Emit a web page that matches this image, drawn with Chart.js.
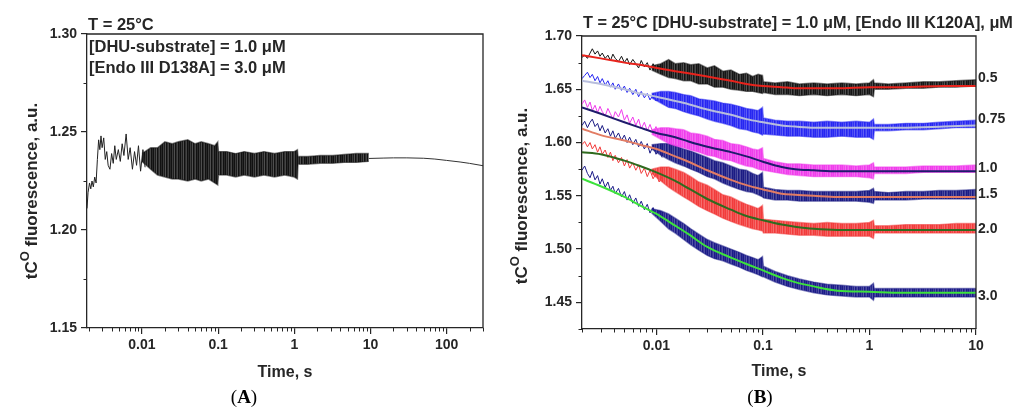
<!DOCTYPE html>
<html>
<head>
<meta charset="utf-8">
<script src="https://cdn.jsdelivr.net/npm/chart.js@4.4.1/dist/chart.umd.min.js"></script>
<style>
  html, body { margin: 0; padding: 0; background: #fff; }
  #wrap { position: relative; width: 1017px; height: 410px; }
  #chartA { position: absolute; left: 0; top: 0; }
  #chartB { position: absolute; left: 500px; top: 0; }
</style>
</head>
<body>
<div id="wrap">
  <canvas id="chartA" width="500" height="410"></canvas>
  <canvas id="chartB" width="517" height="410"></canvas>
</div>
<script>
const FONT = "'Liberation Sans', Arial, sans-serif";
const SERIF = "'Liberation Serif', 'Times New Roman', serif";
const INK = '#262626';

// ---------- panel A : D138A, 3.0 uM ----------
const tA_early = [0.0019, 0.00196, 0.00205, 0.00213, 0.00221, 0.0023, 0.0024, 0.0025, 0.0026, 0.0027,
  0.0028, 0.0029, 0.003, 0.00315, 0.0033, 0.00345, 0.0036, 0.0038, 0.004, 0.0042,
  0.0044, 0.0046, 0.0049, 0.0052, 0.0055, 0.0058, 0.0062, 0.0066, 0.007, 0.0075,
  0.008, 0.0085, 0.009, 0.0096, 0.0103, 0.011];
const fluoA_early = [1.211, 1.219, 1.224, 1.221, 1.225, 1.222, 1.227, 1.224, 1.236, 1.246,
  1.241, 1.248, 1.242, 1.247, 1.236, 1.240, 1.233, 1.231, 1.239, 1.234,
  1.243, 1.236, 1.241, 1.235, 1.244, 1.238, 1.249, 1.236, 1.242, 1.231,
  1.240, 1.233, 1.243, 1.230, 1.241, 1.232];
const tA_band = [0.01, 0.013, 0.016, 0.02, 0.025, 0.03, 0.04, 0.05, 0.06, 0.075,
  0.09, 0.099, 0.101, 0.13, 0.17, 0.22, 0.3, 0.4, 0.55, 0.75,
  1.0, 1.1, 1.12, 1.5, 2.2, 3.2, 4.5, 6.5, 9.5];
const fluoA_hi = [1.239, 1.242, 1.242, 1.245, 1.244, 1.245, 1.246, 1.244, 1.245, 1.244,
  1.243, 1.245, 1.240, 1.240, 1.239, 1.240, 1.239, 1.240, 1.239, 1.240,
  1.240, 1.241, 1.2375, 1.2375, 1.238, 1.238, 1.2385, 1.239, 1.239];
const fluoA_lo = [1.235, 1.231, 1.228, 1.227, 1.226, 1.226, 1.225, 1.226, 1.225, 1.226,
  1.224, 1.223, 1.228, 1.228, 1.227, 1.228, 1.227, 1.228, 1.227, 1.228,
  1.227, 1.226, 1.2335, 1.2335, 1.234, 1.234, 1.2345, 1.2345, 1.235];
const tA_tail = [9.5, 15, 20, 30, 50, 70, 100, 150, 200, 300];
const fluoA_tail = [1.2365, 1.2367, 1.2368, 1.2368, 1.2366, 1.2362, 1.2355, 1.2347, 1.234, 1.2328];
const xTicksA = [0.01, 0.1, 1, 10, 100];
const yTicksA = [1.15, 1.20, 1.25, 1.30];
const yMinorA = [1.175, 1.225, 1.275];

// ---------- panel B : K120A titration ----------
const tB_early = [0.002, 0.00212, 0.00225, 0.00238, 0.0025, 0.00265, 0.0028, 0.00295, 0.0031, 0.0033,
  0.0035, 0.0037, 0.0039, 0.0041, 0.0044, 0.0047, 0.005, 0.0053, 0.0056, 0.006,
  0.0064, 0.0068, 0.0072, 0.0077, 0.0082, 0.0087, 0.0093, 0.0099, 0.0106, 0.0113];
const tB_band = [0.009, 0.011, 0.013, 0.015, 0.018, 0.021, 0.025, 0.03, 0.035, 0.042,
  0.05, 0.06, 0.07, 0.08, 0.09, 0.099, 0.101, 0.13, 0.17, 0.22,
  0.3, 0.4, 0.55, 0.75, 1.0, 1.09, 1.11, 1.5, 2.2, 3.2,
  4.5, 6.5, 10];
const tB_fit = [0.002, 0.003, 0.005, 0.007, 0.01, 0.015, 0.02, 0.03, 0.05, 0.07,
  0.1, 0.15, 0.2, 0.3, 0.5, 1, 2, 5, 10];

const concLabels = ['0.5', '0.75', '1.0', '1.5', '2.0', '3.0'];

const raw05 = [1.680, 1.682, 1.679, 1.684, 1.688, 1.683, 1.686, 1.681, 1.684, 1.679,
  1.682, 1.677, 1.683, 1.679, 1.676, 1.681, 1.675, 1.679, 1.673, 1.678,
  1.674, 1.670, 1.677, 1.671, 1.675, 1.668, 1.674, 1.669, 1.672, 1.667];
const hi05 = [1.672, 1.674, 1.678, 1.674, 1.675, 1.673, 1.674, 1.670, 1.672, 1.667,
  1.668, 1.664, 1.665, 1.662, 1.664, 1.663, 1.657, 1.656, 1.657, 1.655,
  1.656, 1.655, 1.656, 1.655, 1.656, 1.659, 1.656, 1.655, 1.656, 1.657,
  1.657, 1.658, 1.659];
const lo05 = [1.668, 1.664, 1.661, 1.660, 1.658, 1.658, 1.655, 1.655, 1.652, 1.652,
  1.650, 1.649, 1.648, 1.648, 1.647, 1.646, 1.647, 1.645, 1.645, 1.644,
  1.645, 1.644, 1.645, 1.644, 1.645, 1.643, 1.650, 1.650, 1.651, 1.651,
  1.652, 1.652, 1.653];
const fit05 = [1.682, 1.679, 1.675, 1.673, 1.670, 1.667, 1.665, 1.662, 1.658, 1.655,
  1.653, 1.652, 1.651, 1.651, 1.651, 1.652, 1.652, 1.653, 1.653];

const raw075 = [1.660, 1.663, 1.666, 1.661, 1.664, 1.658, 1.662, 1.656, 1.660, 1.654,
  1.658, 1.652, 1.656, 1.650, 1.655, 1.649, 1.653, 1.647, 1.651, 1.645,
  1.650, 1.643, 1.648, 1.642, 1.646, 1.640, 1.645, 1.639, 1.643, 1.637];
const hi075 = [1.646, 1.648, 1.648, 1.647, 1.645, 1.644, 1.641, 1.640, 1.639, 1.637,
  1.636, 1.634, 1.632, 1.631, 1.630, 1.633, 1.623, 1.621, 1.620, 1.620,
  1.619, 1.620, 1.619, 1.620, 1.619, 1.622, 1.617, 1.617, 1.618, 1.618,
  1.619, 1.620, 1.621];
const lo075 = [1.642, 1.637, 1.633, 1.632, 1.629, 1.627, 1.625, 1.622, 1.620, 1.618,
  1.616, 1.613, 1.612, 1.610, 1.609, 1.607, 1.608, 1.607, 1.606, 1.606,
  1.605, 1.605, 1.606, 1.605, 1.605, 1.603, 1.611, 1.611, 1.612, 1.612,
  1.613, 1.614, 1.614];
const fit075 = [1.658, 1.655, 1.650, 1.646, 1.643, 1.639, 1.636, 1.631, 1.626, 1.622,
  1.619, 1.616, 1.615, 1.614, 1.614, 1.614, 1.614, 1.615, 1.616];

const raw10 = [1.636, 1.640, 1.633, 1.638, 1.630, 1.635, 1.628, 1.634, 1.629, 1.625,
  1.632, 1.627, 1.622, 1.629, 1.624, 1.631, 1.621, 1.626, 1.618, 1.624,
  1.616, 1.622, 1.613, 1.619, 1.611, 1.617, 1.609, 1.615, 1.607, 1.612];
const hi10 = [1.612, 1.614, 1.614, 1.613, 1.612, 1.609, 1.608, 1.606, 1.603, 1.602,
  1.599, 1.598, 1.596, 1.594, 1.593, 1.595, 1.585, 1.582, 1.580, 1.580,
  1.579, 1.579, 1.579, 1.578, 1.579, 1.581, 1.577, 1.577, 1.577, 1.578,
  1.578, 1.578, 1.579];
const lo10 = [1.608, 1.603, 1.599, 1.597, 1.595, 1.593, 1.591, 1.588, 1.587, 1.584,
  1.583, 1.580, 1.578, 1.577, 1.575, 1.574, 1.574, 1.572, 1.570, 1.569,
  1.568, 1.568, 1.568, 1.568, 1.567, 1.566, 1.571, 1.571, 1.571, 1.572,
  1.572, 1.572, 1.572];
const fit10 = [1.633, 1.627, 1.619, 1.614, 1.609, 1.605, 1.601, 1.596, 1.591, 1.587,
  1.582, 1.577, 1.575, 1.574, 1.573, 1.573, 1.573, 1.573, 1.573];

const raw15 = [1.616, 1.620, 1.614, 1.619, 1.622, 1.615, 1.618, 1.611, 1.616, 1.609,
  1.613, 1.606, 1.611, 1.604, 1.609, 1.602, 1.607, 1.600, 1.605, 1.598,
  1.603, 1.596, 1.601, 1.594, 1.599, 1.590, 1.597, 1.589, 1.594, 1.586];
const hi15 = [1.598, 1.599, 1.599, 1.597, 1.594, 1.592, 1.589, 1.586, 1.583, 1.581,
  1.578, 1.575, 1.574, 1.571, 1.569, 1.572, 1.558, 1.556, 1.555, 1.555,
  1.554, 1.554, 1.554, 1.554, 1.555, 1.557, 1.554, 1.553, 1.554, 1.554,
  1.555, 1.555, 1.556];
const lo15 = [1.594, 1.588, 1.584, 1.581, 1.578, 1.575, 1.572, 1.568, 1.566, 1.562,
  1.559, 1.556, 1.554, 1.553, 1.551, 1.549, 1.548, 1.546, 1.546, 1.545,
  1.545, 1.545, 1.545, 1.545, 1.544, 1.543, 1.546, 1.546, 1.546, 1.547,
  1.547, 1.547, 1.547];
const fit15 = [1.613, 1.607, 1.602, 1.598, 1.594, 1.587, 1.582, 1.574, 1.565, 1.560,
  1.556, 1.552, 1.551, 1.550, 1.549, 1.549, 1.549, 1.549, 1.549];

const raw20 = [1.598, 1.601, 1.596, 1.600, 1.594, 1.598, 1.591, 1.596, 1.589, 1.593,
  1.586, 1.591, 1.583, 1.588, 1.581, 1.586, 1.578, 1.584, 1.576, 1.581,
  1.574, 1.579, 1.571, 1.576, 1.568, 1.574, 1.566, 1.571, 1.563, 1.568];
const hi20 = [1.575, 1.577, 1.577, 1.575, 1.572, 1.568, 1.563, 1.560, 1.556, 1.551,
  1.549, 1.545, 1.542, 1.540, 1.538, 1.541, 1.528, 1.527, 1.526, 1.525,
  1.524, 1.525, 1.524, 1.524, 1.525, 1.527, 1.522, 1.522, 1.523, 1.523,
  1.523, 1.524, 1.524];
const lo20 = [1.571, 1.564, 1.558, 1.554, 1.549, 1.545, 1.540, 1.536, 1.533, 1.529,
  1.526, 1.523, 1.521, 1.519, 1.518, 1.517, 1.515, 1.515, 1.514, 1.513,
  1.513, 1.512, 1.512, 1.512, 1.512, 1.510, 1.515, 1.515, 1.515, 1.515,
  1.515, 1.515, 1.515];
const fit20 = [1.591, 1.589, 1.583, 1.578, 1.572, 1.564, 1.557, 1.547, 1.537, 1.531,
  1.527, 1.523, 1.521, 1.519, 1.518, 1.518, 1.518, 1.518, 1.518];

const raw30 = [1.574, 1.578, 1.571, 1.567, 1.573, 1.565, 1.569, 1.561, 1.566, 1.558,
  1.563, 1.555, 1.559, 1.552, 1.557, 1.549, 1.554, 1.546, 1.551, 1.543,
  1.548, 1.540, 1.545, 1.537, 1.542, 1.534, 1.539, 1.531, 1.536, 1.528];
const hi30 = [1.538, 1.536, 1.533, 1.529, 1.524, 1.519, 1.514, 1.509, 1.506, 1.503,
  1.500, 1.497, 1.494, 1.492, 1.490, 1.493, 1.484, 1.479, 1.475, 1.472,
  1.469, 1.467, 1.466, 1.465, 1.465, 1.468, 1.463, 1.463, 1.463, 1.463,
  1.463, 1.463, 1.463];
const lo30 = [1.534, 1.526, 1.519, 1.515, 1.509, 1.504, 1.499, 1.494, 1.491, 1.489,
  1.486, 1.483, 1.480, 1.478, 1.476, 1.474, 1.474, 1.469, 1.465, 1.462,
  1.459, 1.457, 1.456, 1.455, 1.455, 1.452, 1.455, 1.455, 1.455, 1.455,
  1.455, 1.455, 1.455];
const fit30 = [1.566, 1.559, 1.549, 1.541, 1.533, 1.522, 1.514, 1.502, 1.492, 1.486,
  1.480, 1.473, 1.469, 1.465, 1.461, 1.460, 1.459, 1.459, 1.459];

const xTicksB = [0.01, 0.1, 1, 10];
const yTicksB = [1.45, 1.50, 1.55, 1.60, 1.65, 1.70];
const yMinorB = [1.425, 1.475, 1.525, 1.575, 1.625, 1.675];

// colours: [data, fit]
const colorsB = [
  ['#151515', '#e8231c'],
  ['#2626f2', '#b8bedd'],
  ['#f03cec', '#1f1b6c'],
  ['#1b1b84', '#e27c64'],
  ['#f23b3b', '#2f6a1e'],
  ['#1b1b88', '#3ce23c']
];
const labelShift = [-8, -6, -3, -3, -1, 3];

function pts(xs, ys) {
  return xs.map((x, i) => ({ x: x, y: ys[i] }));
}

// faint vertical streak texture so the dense noisy parts are not flat ribbons
const streakAlpha = [1, 0.82, 0.95, 0.74, 1, 0.88, 0.78, 1, 0.9];
function streaks(color) {
  const c = document.createElement('canvas');
  c.width = streakAlpha.length; c.height = 2;
  const g = c.getContext('2d');
  g.fillStyle = color;
  streakAlpha.forEach((a, i) => { g.globalAlpha = a; g.fillRect(i, 0, 1, 2); });
  return g.createPattern(c, 'repeat');
}

function rawLine(t, v, color) {
  return { data: pts(t, v), borderColor: color, borderWidth: 1, fill: false, order: 2 };
}

function band(t, hi, lo, color) {
  const edge = color + '80';
  return [
    { data: pts(t, hi), borderColor: edge, borderWidth: 1.4, backgroundColor: streaks(color), fill: '+1', order: 2 },
    { data: pts(t, lo), borderColor: edge, borderWidth: 1.4, fill: false, order: 2 }
  ];
}

function fitLine(t, v, color) {
  return { data: pts(t, v), borderColor: color, borderWidth: 2, fill: false,
           cubicInterpolationMode: 'monotone', order: 0 };
}

function drawYLabel(ctx, baseX, centerY) {
  const big = `bold 17px ${FONT}`, small = `bold 13px ${FONT}`;
  ctx.save();
  ctx.translate(baseX, centerY);
  ctx.rotate(-Math.PI / 2);
  ctx.fillStyle = INK;
  ctx.textBaseline = 'alphabetic';
  ctx.textAlign = 'left';
  ctx.font = big;
  const w1 = ctx.measureText('tC').width;
  const w3 = ctx.measureText(' fluorescence, a.u.').width;
  ctx.font = small;
  const w2 = ctx.measureText('O').width;
  let x = -(w1 + w2 + w3) / 2;
  ctx.font = big; ctx.fillText('tC', x, 0); x += w1;
  ctx.font = small; ctx.fillText('O', x, -8); x += w2;
  ctx.font = big; ctx.fillText(' fluorescence, a.u.', x, 0);
  ctx.restore();
}

function drawPanelTag(ctx, cx, cy, letter) {
  ctx.save();
  ctx.fillStyle = '#000';
  ctx.textBaseline = 'middle';
  ctx.textAlign = 'left';
  const reg = `19px ${SERIF}`, bold = `bold 19px ${SERIF}`;
  ctx.font = reg; const wp = ctx.measureText('(').width; const wq = ctx.measureText(')').width;
  ctx.font = bold; const wl = ctx.measureText(letter).width;
  let x = cx - (wp + wl + wq) / 2;
  ctx.font = reg; ctx.fillText('(', x, cy); x += wp;
  ctx.font = bold; ctx.fillText(letter, x, cy); x += wl;
  ctx.font = reg; ctx.fillText(')', x, cy);
  ctx.restore();
}

// frame, minor ticks and annotation text
const axisExtras = {
  id: 'axisExtras',
  afterDraw(chart, args, opts) {
    const { ctx, chartArea: a, scales: { x, y } } = chart;
    ctx.save();
    ctx.strokeStyle = INK;
    ctx.lineWidth = 1.3;
    ctx.beginPath();
    ctx.moveTo(a.left, a.top);
    ctx.lineTo(a.right, a.top);
    ctx.lineTo(a.right, a.bottom);
    ctx.stroke();

    ctx.lineWidth = 1;
    ctx.beginPath();
    for (let e = -3; e <= 2; e++) {
      for (let m = 2; m <= 9; m++) {
        const v = m * Math.pow(10, e);
        if (v < x.min || v > x.max) continue;
        const px = Math.round(x.getPixelForValue(v)) + 0.5;
        ctx.moveTo(px, a.bottom);
        ctx.lineTo(px, a.bottom + 3.5);
      }
    }
    opts.yMinor.forEach(v => {
      const py = Math.round(y.getPixelForValue(v)) + 0.5;
      ctx.moveTo(a.left, py);
      ctx.lineTo(a.left - 3.5, py);
    });
    ctx.stroke();
    ctx.restore();

    opts.text(ctx, chart);
  }
};

function baseOptions(p) {
  return {
    responsive: false,
    animation: false,
    devicePixelRatio: 1,
    layout: { padding: { top: p.top, right: p.right, left: 0, bottom: 0 } },
    elements: { point: { radius: 0 }, line: { tension: 0 } },
    plugins: {
      legend: { display: false },
      tooltip: { enabled: false },
      title: { display: false },
      axisExtras: { yMinor: p.yMinor, text: p.text }
    },
    scales: {
      x: {
        type: 'logarithmic',
        min: p.xMin, max: p.xMax,
        afterBuildTicks: s => { s.ticks = p.xTicks.map(v => ({ value: v })); },
        afterFit: s => { s.height = p.xHeight; },
        ticks: { autoSkip: false, maxRotation: 0, color: INK, padding: 3,
                 font: { family: FONT, size: 14, weight: 'bold' },
                 callback: v => String(v) },
        grid: { drawOnChartArea: false, drawTicks: true, tickLength: 6, color: INK, lineWidth: 1.2 },
        border: { display: true, color: INK, width: 1.3 },
        title: { display: true, text: 'Time, s', color: INK,
                 font: { family: FONT, size: 16, weight: 'bold' },
                 padding: { top: 0, bottom: p.xTitlePad } }
      },
      y: {
        type: 'linear',
        min: p.yMin, max: p.yMax,
        afterBuildTicks: s => { s.ticks = p.yTicks.map(v => ({ value: v })); },
        afterFit: s => { s.width = p.yWidth; },
        ticks: { color: INK, padding: 4, font: { family: FONT, size: 14, weight: 'bold' },
                 callback: v => v.toFixed(2) },
        grid: { drawOnChartArea: false, drawTicks: true, tickLength: 6, color: INK, lineWidth: 1.2 },
        border: { display: true, color: INK, width: 1.3 }
      }
    }
  };
}

// ---------- chart A ----------
new Chart(document.getElementById('chartA'), {
  type: 'line',
  data: {
    datasets: [
      rawLine(tA_early, fluoA_early, '#222222'),
      ...band(tA_band, fluoA_hi, fluoA_lo, '#111111'),
      rawLine(tA_tail, fluoA_tail, '#333333')
    ]
  },
  options: baseOptions({
    top: 34, right: 17, xHeight: 82, yWidth: 87, xTitlePad: 28,
    xMin: 0.0019, xMax: 300, xTicks: xTicksA,
    yMin: 1.15, yMax: 1.30, yTicks: yTicksA, yMinor: yMinorA,
    text: (ctx) => {
      ctx.save();
      ctx.fillStyle = INK;
      ctx.textBaseline = 'middle';
      ctx.textAlign = 'left';
      ctx.font = `bold 16.5px ${FONT}`;
      ctx.fillText('T = 25°C', 88, 25);
      ctx.fillText('[DHU-substrate] = 1.0 μM', 89, 47);
      ctx.fillText('[Endo III D138A] = 3.0 μM', 89, 68);
      ctx.restore();
      drawYLabel(ctx, 37, 191);
      drawPanelTag(ctx, 244, 398, 'A');
    }
  }),
  plugins: [axisExtras]
});

// ---------- chart B ----------
const rawB = [raw05, raw075, raw10, raw15, raw20, raw30];
const hiB = [hi05, hi075, hi10, hi15, hi20, hi30];
const loB = [lo05, lo075, lo10, lo15, lo20, lo30];
const fitB = [fit05, fit075, fit10, fit15, fit20, fit30];

const datasetsB = [];
fitB.forEach((f, i) => datasetsB.push(fitLine(tB_fit, f, colorsB[i][1])));
rawB.forEach((r, i) => {
  datasetsB.push(rawLine(tB_early, r, colorsB[i][0]));
  datasetsB.push(...band(tB_band, hiB[i], loB[i], colorsB[i][0]));
});

new Chart(document.getElementById('chartB'), {
  type: 'line',
  data: { datasets: datasetsB },
  options: baseOptions({
    top: 36, right: 41, xHeight: 81, yWidth: 82, xTitlePad: 29,
    xMin: 0.002, xMax: 10, xTicks: xTicksB,
    yMin: 1.425, yMax: 1.70, yTicks: yTicksB, yMinor: yMinorB,
    text: (ctx, chart) => {
      const a = chart.chartArea, y = chart.scales.y;
      ctx.save();
      ctx.fillStyle = INK;
      ctx.textBaseline = 'middle';
      ctx.textAlign = 'left';
      ctx.font = `bold 16.3px ${FONT}`;
      ctx.fillText('T = 25°C [DHU-substrate] = 1.0 μM, [Endo III K120A], μM', 83, 24);
      ctx.font = `bold 14px ${FONT}`;
      concLabels.forEach((lab, i) => {
        const f = fitB[i];
        ctx.fillText(lab, a.right + 2, y.getPixelForValue(f[f.length - 1]) + labelShift[i]);
      });
      ctx.restore();
      drawYLabel(ctx, 27, 196);
      drawPanelTag(ctx, 260, 398, 'B');
    }
  }),
  plugins: [axisExtras]
});
</script>
</body>
</html>
